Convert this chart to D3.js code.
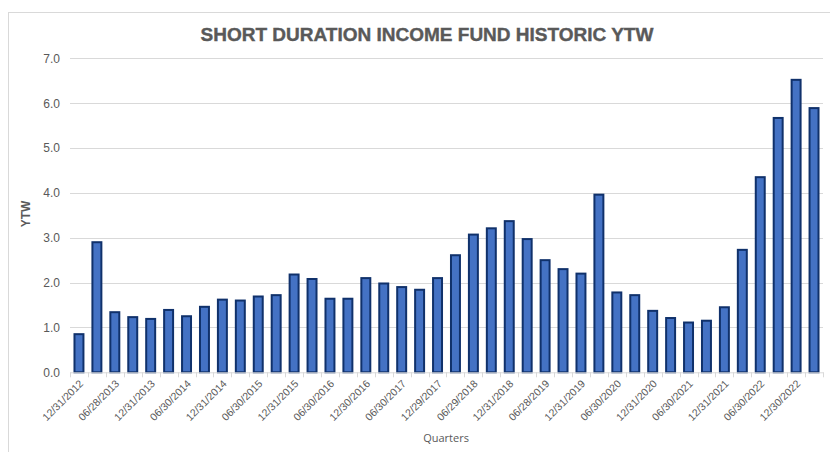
<!DOCTYPE html>
<html>
<head>
<meta charset="utf-8">
<script src="https://cdn.jsdelivr.net/npm/d3@7"></script>
<style>
  html, body { margin: 0; padding: 0; background: #fff; }
  svg { display: block; }
</style>
</head>
<body>
<svg id="chart" width="830" height="452"></svg>
<script>
const quarters = [
  "12/31/2012","03/28/2013","06/28/2013","09/30/2013","12/31/2013","03/31/2014",
  "06/30/2014","09/30/2014","12/31/2014","03/31/2015","06/30/2015","09/30/2015",
  "12/31/2015","03/31/2016","06/30/2016","09/30/2016","12/30/2016","03/31/2017",
  "06/30/2017","09/29/2017","12/29/2017","03/29/2018","06/29/2018","09/28/2018",
  "12/31/2018","03/29/2019","06/28/2019","09/30/2019","12/31/2019","03/31/2020",
  "06/30/2020","09/30/2020","12/31/2020","03/31/2021","06/30/2021","09/30/2021",
  "12/31/2021","03/31/2022","06/30/2022","09/30/2022","12/30/2022","03/31/2023"
];
const ytw = [
  0.85, 2.90, 1.34, 1.23, 1.19, 1.39,
  1.25, 1.46, 1.62, 1.60, 1.69, 1.72,
  2.18, 2.08, 1.64, 1.64, 2.10, 1.98,
  1.90, 1.84, 2.10, 2.61, 3.07, 3.21,
  3.37, 2.97, 2.50, 2.30, 2.20, 3.96,
  1.78, 1.72, 1.37, 1.21, 1.11, 1.15,
  1.45, 2.73, 4.35, 5.67, 6.52, 5.89
];
const yTicks = [0, 1, 2, 3, 4, 5, 6, 7];
const titleText = "SHORT DURATION INCOME FUND HISTORIC YTW";
const yTitle = "YTW";
const xTitle = "Quarters";

(function () {
const svg = d3.select("#chart");
const pL = 70, pR = 823, pT = 58.3, pB = 372.3;

// frame
svg.append("rect").attr("x", 8.5).attr("y", 12.5).attr("width", 840).attr("height", 460)
  .attr("fill", "#fff").attr("stroke", "#d9d9d9").attr("stroke-width", 1);

const x = d3.scaleBand().domain(quarters).range([pL, pR]).paddingInner(0).paddingOuter(0);
const y = d3.scaleLinear().domain([0, 7]).range([pB, pT]);

// gridlines
svg.append("g").selectAll("line").data(yTicks.filter(d => d > 0)).join("line")
  .attr("x1", pL).attr("x2", pR)
  .attr("y1", d => Math.round(y(d)) + 0.5).attr("y2", d => Math.round(y(d)) + 0.5)
  .attr("stroke", "#d9d9d9").attr("stroke-width", 1);

// y axis labels
const yAxis = d3.axisLeft(y).tickValues(yTicks).tickFormat(d3.format(".1f")).tickSize(0).tickPadding(10);
const gy = svg.append("g").attr("transform", `translate(${pL},0)`).call(yAxis);
gy.select(".domain").remove();
gy.selectAll("text").attr("fill", "#595959").style("font-family", "Liberation Sans, Arial, sans-serif").style("font-size", "12px");

// bars
const bw = x.bandwidth() * 0.5;
svg.append("g").selectAll("rect").data(quarters).join("rect")
  .attr("x", (d) => x(d) + (x.bandwidth() - bw) / 2)
  .attr("width", bw)
  .attr("y", (d, i) => y(ytw[i]))
  .attr("height", (d, i) => y(0) - y(ytw[i]))
  .attr("fill", "#4472C4")
  .attr("stroke", "#10316B")
  .attr("stroke-width", 2);

// x axis
const labeled = quarters.filter((d, i) => i % 2 === 0);
const xAxis = d3.axisBottom(x).tickValues(labeled).tickSize(0).tickPadding(0);
const gx = svg.append("g").attr("transform", `translate(0,${pB})`).call(xAxis);
gx.select(".domain").attr("stroke", "#d9d9d9");
gx.selectAll("text")
  .attr("fill", "#595959")
  .style("font-family", "Liberation Sans, Arial, sans-serif")
  .style("font-size", "10.5px")
  .attr("text-anchor", "end")
  .attr("dy", "0")
  .attr("y", 0)
  .attr("transform", "translate(5,12) rotate(-45)");
// category boundary ticks
svg.append("g").selectAll("line").data(d3.range(quarters.length + 1)).join("line")
  .attr("x1", i => Math.round(pL + i * x.bandwidth()) + 0.5)
  .attr("x2", i => Math.round(pL + i * x.bandwidth()) + 0.5)
  .attr("y1", pB).attr("y2", pB + 5)
  .attr("stroke", "#d9d9d9").attr("stroke-width", 1);

// titles
svg.append("text").attr("x", 427).attr("y", 41).attr("text-anchor", "middle")
  .attr("fill", "#595959").attr("stroke", "#595959").attr("stroke-width", 0.4)
  .style("font-family", "Liberation Sans, Arial, sans-serif")
  .style("font-weight", "bold").style("font-size", "19px")
  .text(titleText);

svg.append("text").attr("transform", "translate(30,214) rotate(-90)").attr("text-anchor", "middle")
  .attr("fill", "#595959").style("font-family", "Liberation Sans, Arial, sans-serif")
  .style("font-weight", "bold").style("font-size", "12px")
  .text(yTitle);

svg.append("text").attr("x", 446).attr("y", 442).attr("text-anchor", "middle")
  .attr("fill", "#595959").style("font-family", "Open Sans, Liberation Sans, sans-serif")
  .style("font-size", "11px")
  .text(xTitle);
})();
</script>
</body>
</html>
